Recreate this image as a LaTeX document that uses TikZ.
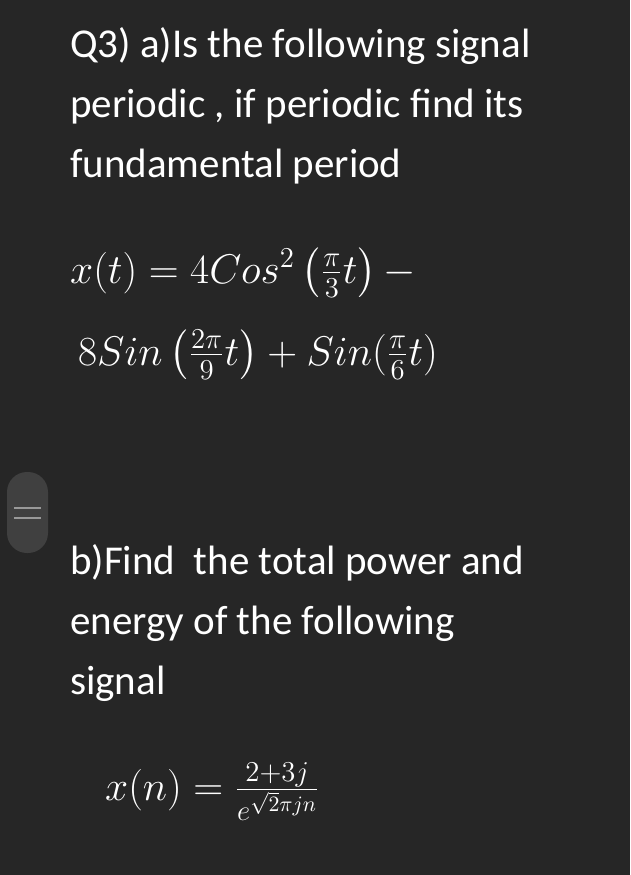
\documentclass[tikz,border=0pt]{standalone}
\usepackage{amsmath}
\usepackage{graphicx}
\usepackage{fontspec}
\setmainfont{Carlito}
\newcommand{\mybigmath}[1]{\scalebox{2}{\fontsize{22}{26}\selectfont$#1$}}
\begin{document}
\begin{tikzpicture}[x=1pt,y=-1pt,
  txt/.style={anchor=base west,inner sep=0pt,text=white,font=\fontsize{41}{48}\selectfont},
  mth/.style={anchor=base west,inner sep=0pt,text=white}]
\fill[fill=black!85!white] (0,0) rectangle (630,875);
\useasboundingbox (0,0) rectangle (630,875);
\node[draw=none,fill=black!75!white,rounded corners=20pt,minimum width=41pt,minimum height=81pt] (pill) at (27.5,512.5) {};
\draw[gray!80,line width=2.5pt] (14,508) -- (41,508) (14,518) -- (41,518);
\node[txt] (l1) at (70,57) {Q3) a)Is the following signal};
\node[txt] (l2) at (70,117) {periodic , if periodic find its};
\node[txt] (l3) at (70,177) {fundamental period};
\node[mth] (m1) at (70,283) {\mybigmath{x(t) = 4Cos^2\left(\frac{\pi}{3}t\right) -}};
\node[mth] (m2) at (78,365) {\mybigmath{8Sin\left(\frac{2\pi}{9}t\right) + Sin(\frac{\pi}{6}t)}};
\node[txt] (b1) at (70,574) {b)Find\ \ the total power and};
\node[txt] (b2) at (70,634) {energy of the following};
\node[txt] (b3) at (70,694) {signal};
\node[mth] (m3) at (105,800) {\mybigmath{x(n) = \frac{2+3j}{e^{\sqrt{2}\pi jn}}}};
\end{tikzpicture}
\end{document}
